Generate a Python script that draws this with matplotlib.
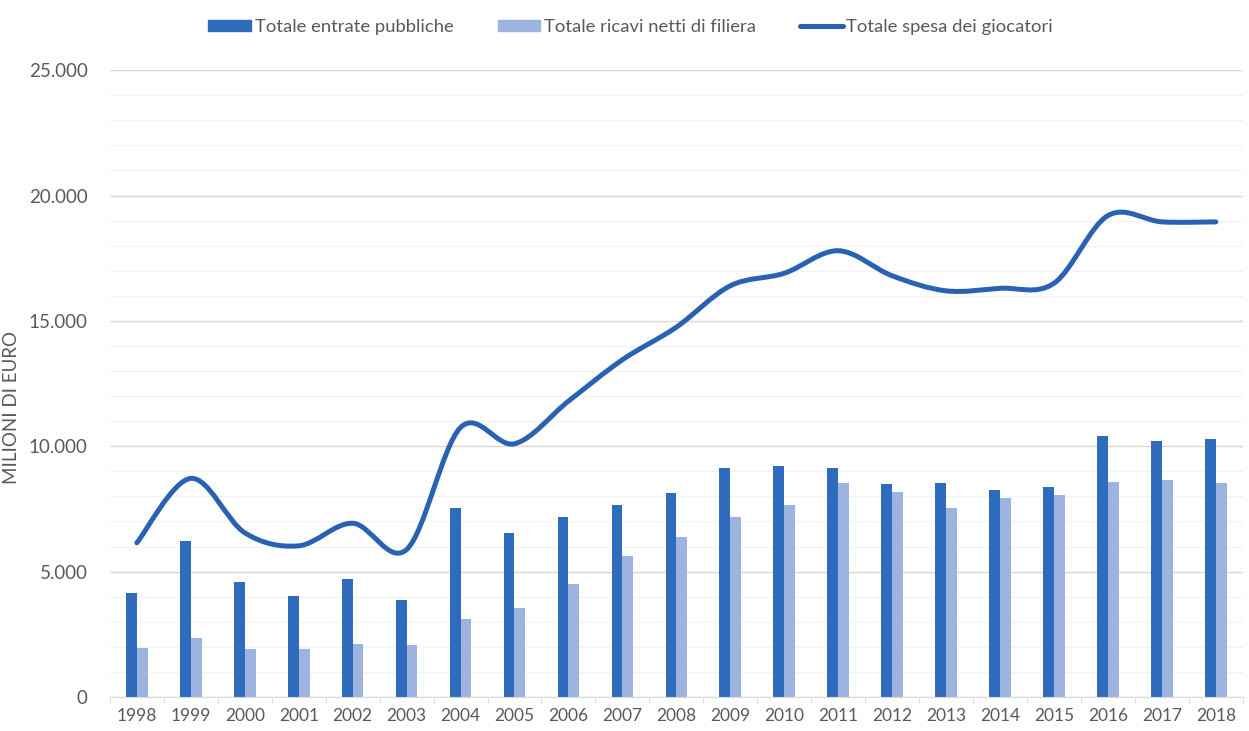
import numpy as np
from matplotlib import pyplot as plt
from matplotlib.path import Path
from matplotlib.patches import PathPatch
from matplotlib.lines import Line2D
from matplotlib.ticker import FuncFormatter, MultipleLocator

# Gioco: entrate pubbliche, ricavi di filiera e spesa dei giocatori (milioni di euro)

anni = [str(a) for a in range(1998, 2019)]

entrate_pubbliche = [4150, 6220, 4600, 4030, 4700, 3870, 7550, 6550, 7190, 7640, 8120,
                     9120, 9210, 9140, 8480, 8520, 8250, 8370, 10420, 10210, 10310]

ricavi_filiera = [1940, 2370, 1930, 1910, 2110, 2060, 3120, 3540, 4510, 5640, 6390,
                  7160, 7640, 8530, 8160, 7550, 7920, 8050, 8560, 8650, 8520]

spesa_giocatori = [6150, 8720, 6550, 6030, 6930, 5880, 10750, 10100, 11800, 13450, 14750,
                   16400, 16900, 17800, 16800, 16200, 16300, 16500, 19200, 18950, 18950]

col_scuro = '#2F6CBE'
col_chiaro = '#9DB4E0'
col_linea = '#2A62B2'
col_testo = '#595959'

plt.rcParams['font.family'] = ['Lato', 'DejaVu Sans']

fig = plt.figure(figsize=(12.49, 7.31), dpi=100)
ax = fig.add_axes([0.088, 0.0465, 0.907, 0.8575])

x = np.arange(len(anni))
ax.bar(x - 0.1, entrate_pubbliche, width=0.2, color=col_scuro, zorder=2)
ax.bar(x + 0.1, ricavi_filiera, width=0.2, color=col_chiaro, zorder=2)

# linea smussata tipo Excel (Bezier dai punti)
p = np.column_stack([x, spesa_giocatori]).astype(float)
pp = np.vstack([p[0], p, p[-1]])
verts = [tuple(p[0])]
codes = [Path.MOVETO]
for i in range(len(p) - 1):
    p0, p1, p2, p3 = pp[i], pp[i + 1], pp[i + 2], pp[i + 3]
    c1 = p1 + (p2 - p0) / 6
    c2 = p2 - (p3 - p1) / 6
    verts += [tuple(c1), tuple(c2), tuple(p2)]
    codes += [Path.CURVE4] * 3
ax.add_patch(PathPatch(Path(verts, codes), facecolor='none', edgecolor=col_linea,
                       lw=3.6, capstyle='round', joinstyle='round', zorder=3))

ax.set_xlim(-0.5, len(anni) - 0.5)
ax.set_ylim(0, 25000)
ax.set_xticks(x)
ax.set_xticklabels(anni)
ax.set_xticks(np.arange(-0.5, len(anni), 1), minor=True)
ax.tick_params(axis='x', which='major', length=0, pad=8, labelsize=12.5, labelcolor=col_testo)
ax.tick_params(axis='x', which='minor', length=5, color='#d9d9d9')

ax.yaxis.set_major_locator(MultipleLocator(5000))
ax.yaxis.set_minor_locator(MultipleLocator(1000))
ax.yaxis.set_major_formatter(FuncFormatter(lambda v, pos: f'{int(v):,}'.replace(',', '.')))
ax.tick_params(axis='y', which='both', length=0, pad=16, labelsize=13.5, labelcolor=col_testo)
ax.grid(axis='y', which='major', color='#e0d6d2', lw=1.0, zorder=0)
ax.grid(axis='y', which='minor', color='#f3f1f1', lw=0.8, zorder=0)

for s in ['top', 'right', 'left']:
    ax.spines[s].set_visible(False)
ax.spines['bottom'].set_color('#d9d9d9')

ax.set_ylabel('MILIONI DI EURO', fontsize=13.5, color=col_testo)
ax.yaxis.set_label_coords(-0.079, 0.4625)

handles = [plt.Rectangle((0, 0), 1, 1, color=col_scuro),
           plt.Rectangle((0, 0), 1, 1, color=col_chiaro),
           Line2D([0], [0], color=col_linea, lw=3.6, solid_capstyle='round')]
fig.legend(handles, ['Totale entrate pubbliche', 'Totale ricavi netti di filiera',
                     'Totale spesa dei giocatori'],
           loc='center', bbox_to_anchor=(0.505, 0.963), ncol=3, frameon=False,
           fontsize=13.3, labelcolor=col_testo, handlelength=2.3, handleheight=0.5,
           handletextpad=0.2, columnspacing=2.4)

plt.savefig('out.png', dpi=100)
